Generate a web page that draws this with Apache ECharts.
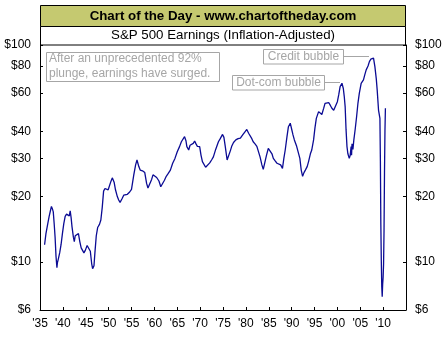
<!DOCTYPE html>
<html>
<head>
<meta charset="utf-8">
<script src="https://cdn.jsdelivr.net/npm/echarts@6/dist/echarts.min.js"></script>
<style>
html,body{margin:0;padding:0;background:#fff;}
#c{width:448px;height:337px;}
</style>
</head>
<body>
<div id="c"></div>
<script>
const years = [
1936.0,1936.3,1936.7,1937.0,1937.3,1937.5,1937.7,1937.9,1938.1,1938.3,1938.5,1938.7,1938.8,1939.0,1939.3,1939.6,1939.9,
1940.2,1940.5,1940.8,1941.1,1941.4,1941.6,1941.8,1942.0,1942.3,1942.5,1942.7,1943.0,1943.4,1943.7,1944.0,1944.3,1944.6,1944.9,
1945.3,1945.6,1946.0,1946.3,1946.5,1946.8,1947.0,1947.3,1947.6,1948.0,1948.3,1948.6,1948.9,1949.2,1949.5,1949.9,
1950.2,1950.5,1950.8,1951.2,1951.5,1951.9,1952.2,1952.5,1952.9,1953.3,1953.7,1954.1,1954.6,1955.0,1955.5,1955.9,1956.2,1956.6,1956.9,
1957.4,1957.9,1958.3,1958.6,1959.0,1959.4,1959.7,1960.1,1960.5,1961.0,1961.4,1961.8,1962.2,1962.6,1963.0,1963.5,1964.0,1964.5,
1965.0,1965.5,1965.9,1966.3,1966.6,1966.9,1967.1,1967.5,1967.8,1968.1,1968.5,1968.8,1969.1,1969.4,1969.9,
1970.2,1970.5,1970.8,1971.2,1971.6,1972.1,1972.5,1972.9,1973.4,1974.0,1974.4,1974.9,1975.2,1975.5,1975.9,
1976.2,1976.6,1976.9,1977.3,1977.8,1978.3,1978.8,1979.3,1979.8,1980.2,1980.6,1980.9,1981.3,1981.6,1982.0,1982.4,1982.8,
1983.1,1983.5,1983.8,1984.1,1984.5,1984.9,1985.3,1985.7,1986.0,1986.4,1986.8,1987.2,1987.6,1988.0,1988.3,1988.6,1989.0,1989.3,1989.7,
1990.0,1990.3,1990.6,1991.1,1991.5,1991.8,1992.1,1992.4,1992.7,1993.0,1993.4,1993.7,1994.1,1994.4,1994.8,
1995.1,1995.4,1995.9,1996.3,1996.6,1997.0,1997.3,1997.7,1998.1,1998.5,1998.8,1999.2,1999.5,
2000.0,2000.3,2000.6,2001.0,2001.3,2001.5,2001.7,2001.9,2002.1,2002.3,2002.6,2002.8,2003.0,2003.1,2003.2,2003.4,2003.6,2003.9,
2004.2,2004.5,2004.8,2005.2,2005.5,2005.7,2006.0,2006.3,2006.7,2007.0,2007.3,2007.6,2007.9,2008.2,2008.5,2008.7,
2009.0,2009.3,2009.4,2009.5,2009.6,2009.7,2009.8,2009.9,2010.0,2010.1,2010.2,2010.3,2010.4,2010.5
];
const earnings = [
12.0,13.5,15.0,16.2,17.3,18.0,17.6,17.0,15.0,13.0,10.6,9.4,9.9,10.3,11.0,12.0,13.5,
15.0,16.2,16.6,16.3,16.3,17.2,16.0,14.5,13.0,12.4,13.2,13.4,13.5,12.4,11.6,11.3,11.0,11.3,
11.9,11.7,11.2,9.8,9.3,9.6,11.0,13.2,14.4,14.9,15.6,17.8,21.2,21.8,21.6,21.5,
21.8,23.5,24.4,23.3,21.5,20.0,19.3,18.8,19.5,20.3,20.4,20.5,21.0,21.6,25.2,28.0,29.5,27.5,26.5,
26.3,25.8,23.0,21.9,21.8,24.0,25.2,25.0,24.5,23.6,22.2,21.9,23.8,24.8,25.5,26.5,28.5,30.0,
32.2,34.0,35.8,36.5,37.8,36.2,34.0,32.8,34.5,34.0,35.2,36.1,35.0,34.1,34.0,
31.0,29.0,28.5,27.3,27.8,28.6,29.5,30.5,33.0,35.8,37.0,38.7,37.5,34.0,29.5,
30.0,32.5,34.1,35.5,36.5,37.0,37.2,38.5,39.8,40.8,39.2,38.5,37.0,35.8,35.0,34.1,32.0,
30.5,28.0,26.7,27.2,31.0,33.4,33.2,31.5,30.0,29.2,28.5,28.5,28.0,27.0,30.0,32.8,38.0,42.0,43.6,
41.0,38.5,36.5,34.1,33.5,30.0,26.5,24.8,25.8,26.5,27.5,29.0,31.5,32.8,36.5,
41.5,45.9,49.3,48.5,47.8,51.0,53.8,54.8,54.3,52.5,51.1,50.0,49.3,
54.8,59.0,64.3,66.6,63.0,58.0,52.0,40.6,34.0,31.5,30.0,31.0,34.0,31.0,35.0,33.0,36.5,41.0,
46.7,54.0,60.0,66.6,67.5,69.1,73.0,76.8,80.0,83.8,86.0,87.8,87.0,79.5,70.0,62.1,
50.0,45.9,29.5,15.0,10.2,7.7,6.9,7.9,8.5,9.8,14.0,25.6,40.0,51.1
];
const yTicks = [6, 10, 20, 30, 40, 60, 80, 100];
const headerText = 'Chart of the Day - www.chartoftheday.com';
const subtitleText = 'S&P 500 Earnings (Inflation-Adjusted)';
const noteText = 'After an unprecedented 92%\nplunge, earnings have surged.';
const creditText = 'Credit bubble';
const dotcomText = 'Dot-com bubble';

const FONT = 'Arial, "Liberation Sans", sans-serif';
const chart = echarts.init(document.getElementById('c'), null, {renderer: 'canvas'});
const seriesData = years.map((y, i) => [y, earnings[i]]);

function yAxisDef(pos) {
  return {
    type: 'log',
    position: pos,
    min: 6,
    max: 100,
    logBase: 10,
    axisLine: {show: true, lineStyle: {color: '#000', width: 1}},
    axisTick: {show: true, inside: true, length: 3, customValues: yTicks, lineStyle: {color: '#000'}},
    axisLabel: {
      customValues: yTicks,
      formatter: v => '$' + Math.round(v),
      color: '#000', fontSize: 12, fontFamily: FONT, margin: 9
    },
    splitLine: {show: false}
  };
}

chart.setOption({
  animation: false,
  backgroundColor: '#fff',
  grid: {left: 40, right: 42, top: 45, bottom: 27, containLabel: false},
  xAxis: {
    type: 'value',
    min: 1935, max: 2015, interval: 5,
    axisLine: {show: true, onZero: false, lineStyle: {color: '#000', width: 1}},
    axisTick: {show: true, inside: true, length: 3, lineStyle: {color: '#000'}},
    axisLabel: {
      formatter: v => v >= 2015 ? '' : "'" + String(v).slice(2),
      color: '#000', fontSize: 12, fontFamily: FONT, margin: 8,
      showMinLabel: true, showMaxLabel: false
    },
    splitLine: {show: false}
  },
  yAxis: [yAxisDef('left'), yAxisDef('right')],
  series: [{
    type: 'line',
    data: seriesData,
    yAxisIndex: 0,
    showSymbol: false,
    symbol: 'none',
    lineStyle: {color: '#0b0b94', width: 1.3},
    z: 3
  }],
  graphic: [
    {type: 'rect', shape: {x: 40.5, y: 5.5, width: 365, height: 21}, style: {fill: '#C5C970', stroke: '#000', lineWidth: 1}, z: 10},
    {type: 'text', x: 223, y: 16, style: {text: headerText, font: 'bold 13.3px ' + FONT, fill: '#000', align: 'center', verticalAlign: 'middle'}, z: 11},
    {type: 'rect', shape: {x: 40.5, y: 26.5, width: 365, height: 18.5}, style: {fill: '#fff', stroke: '#000', lineWidth: 1}, z: 10},
    {type: 'text', x: 223, y: 35.5, style: {text: subtitleText, font: '13.3px ' + FONT, fill: '#000', align: 'center', verticalAlign: 'middle'}, z: 11},
    {type: 'rect', shape: {x: 46.5, y: 52.5, width: 173, height: 29}, style: {fill: '#fff', stroke: '#A6A6A6', lineWidth: 1}, z: 10},
    {type: 'text', x: 49, y: 51, style: {text: noteText, font: '12px ' + FONT, fill: '#A6A6A6', align: 'left', verticalAlign: 'top', lineHeight: 15}, z: 11},
    {type: 'rect', shape: {x: 263.5, y: 49.5, width: 80, height: 14.5}, style: {fill: '#fff', stroke: '#A6A6A6', lineWidth: 1}, z: 10},
    {type: 'text', x: 303.5, y: 57, style: {text: creditText, font: '12px ' + FONT, fill: '#A6A6A6', align: 'center', verticalAlign: 'middle'}, z: 11},
    {type: 'line', shape: {x1: 344, y1: 56.5, x2: 369, y2: 56.5}, style: {stroke: '#A6A6A6', lineWidth: 1}, z: 10},
    {type: 'rect', shape: {x: 232.5, y: 75.5, width: 92, height: 14.5}, style: {fill: '#fff', stroke: '#A6A6A6', lineWidth: 1}, z: 10},
    {type: 'text', x: 278.5, y: 83, style: {text: dotcomText, font: '12px ' + FONT, fill: '#A6A6A6', align: 'center', verticalAlign: 'middle'}, z: 11},
    {type: 'line', shape: {x1: 325, y1: 82.5, x2: 340, y2: 82.5}, style: {stroke: '#A6A6A6', lineWidth: 1}, z: 10}
  ]
});
</script>
</body>
</html>
